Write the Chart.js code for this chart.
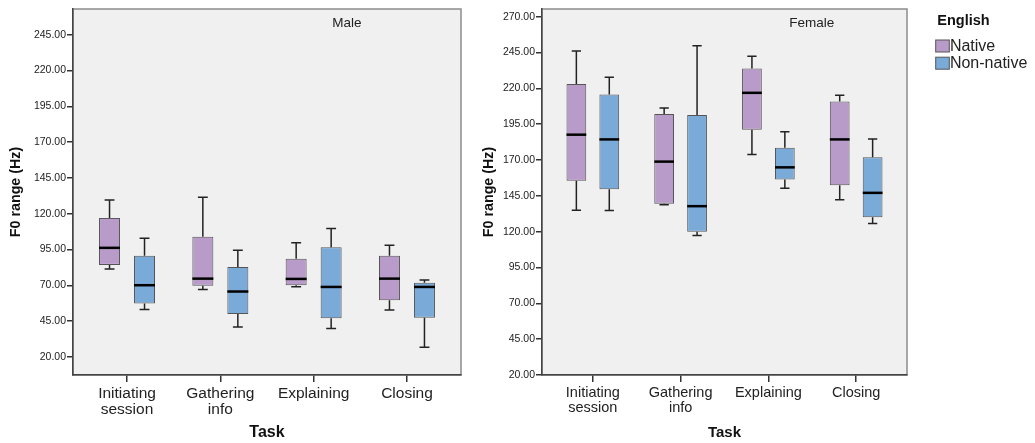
<!DOCTYPE html>
<html>
<head>
<meta charset="utf-8">
<script src="https://cdn.jsdelivr.net/npm/chart.js@4/dist/chart.umd.min.js"></script>
<style>
  body { margin: 0; background: #fff; }
  #wrap { position: relative; width: 1035px; height: 443px; }
  #male { position: absolute; left: 0; top: 0; }
  #female { position: absolute; left: 480px; top: 0; }
</style>
</head>
<body>
<div id="wrap">
  <canvas id="male" width="480" height="443"></canvas>
  <canvas id="female" width="555" height="443"></canvas>
</div>
<script>
const FONT = "'Liberation Sans', Arial, sans-serif";

// Tâches (axe X) et groupes
const tasks = [['Initiating', 'session'], ['Gathering', 'info'], 'Explaining', 'Closing'];
const groups = ['Native', 'Non-native'];
const groupColors = ['#b99bc9', '#7aaad8'];
const legendTitle = 'English';

// Graduations de l'axe Y
const maleTicks = [20, 45, 70, 95, 120, 145, 170, 195, 220, 245];
const femaleTicks = [20, 45, 70, 95, 120, 145, 170, 195, 220, 245, 270];

// Male - Native
const maleNativeMin = [81.5, 67.1, 69.1, 52.8];
const maleNativeQ1 = [84.3, 69.8, 70.1, 59.6];
const maleNativeMed = [96.2, 74.7, 74.5, 74.7];
const maleNativeQ3 = [117.1, 103.9, 88.5, 90.6];
const maleNativeMax = [129.7, 131.6, 99.7, 98.0];

// Male - Non-native
const maleNonMin = [53.1, 41.0, 39.8, 26.7];
const maleNonQ1 = [57.3, 50.0, 47.0, 47.3];
const maleNonMed = [70.1, 65.7, 68.9, 68.9];
const maleNonQ3 = [90.6, 82.9, 96.6, 71.9];
const maleNonMax = [102.9, 94.5, 109.7, 73.8];

// Female - Native
const femaleNativeMin = [135.0, 138.8, 173.8, 142.3];
const femaleNativeQ1 = [155.5, 139.5, 191.2, 152.4];
const femaleNativeMed = [187.7, 168.9, 216.9, 184.4];
const femaleNativeQ3 = [223.0, 202.1, 233.8, 210.9];
const femaleNativeMax = [246.1, 206.3, 242.4, 215.3];

// Female - Non-native
const femaleNonMin = [134.8, 117.4, 150.3, 125.8];
const femaleNonQ1 = [149.6, 120.0, 156.4, 130.1];
const femaleNonMed = [184.4, 137.8, 164.9, 147.1];
const femaleNonQ3 = [215.7, 201.4, 178.6, 171.9];
const femaleNonMax = [227.8, 249.8, 189.8, 184.7];

// Boîte = barre flottante [Q1, Q3] à la position de la tâche
function boxData(q1, q3) {
    return q1.map((v, i) => ({ x: i, y: [v, q3[i]] }));
}

function makeDataset(g, q1, q3, lo, mid, hi) {
    return {
        label: groups[g],
        data: boxData(q1, q3),
        backgroundColor: groupColors[g],
        borderColor: '#555',
        borderWidth: 1,
        borderSkipped: false,
        categoryPercentage: 0.75,
        barPercentage: 0.6,
        stats: { lo: lo, mid: mid, hi: hi }
    };
}

// Fond gris + cadre de la zone de tracé
const framePlugin = {
    id: 'frame',
    beforeDraw(chart) {
        const { ctx, chartArea: a } = chart;
        ctx.save();
        ctx.fillStyle = '#f0f0f0';
        ctx.fillRect(a.left, a.top, a.width, a.height);
        ctx.strokeStyle = '#8c8c8c';
        ctx.lineWidth = 1.5;
        ctx.strokeRect(a.left, a.top, a.width, a.height);
        ctx.restore();
    }
};

// Moustaches et médianes
const whiskerPlugin = {
    id: 'whiskers',
    afterDatasetsDraw(chart) {
        const ctx = chart.ctx;
        const y = chart.scales.y;
        ctx.save();
        chart.data.datasets.forEach((ds, di) => {
            const meta = chart.getDatasetMeta(di);
            meta.data.forEach((bar, i) => {
                const x = bar.x, w = bar.width, cap = w * 0.47;
                const q1 = ds.data[i].y[0], q3 = ds.data[i].y[1];
                ctx.strokeStyle = '#222';
                ctx.lineWidth = 1.5;
                ctx.beginPath();
                ctx.moveTo(x, y.getPixelForValue(q3));
                ctx.lineTo(x, y.getPixelForValue(ds.stats.hi[i]));
                ctx.moveTo(x - cap / 2, y.getPixelForValue(ds.stats.hi[i]));
                ctx.lineTo(x + cap / 2, y.getPixelForValue(ds.stats.hi[i]));
                ctx.moveTo(x, y.getPixelForValue(q1));
                ctx.lineTo(x, y.getPixelForValue(ds.stats.lo[i]));
                ctx.moveTo(x - cap / 2, y.getPixelForValue(ds.stats.lo[i]));
                ctx.lineTo(x + cap / 2, y.getPixelForValue(ds.stats.lo[i]));
                ctx.stroke();
                ctx.strokeStyle = '#000';
                ctx.lineWidth = 2.5;
                ctx.beginPath();
                ctx.moveTo(x - w / 2, y.getPixelForValue(ds.stats.mid[i]));
                ctx.lineTo(x + w / 2, y.getPixelForValue(ds.stats.mid[i]));
                ctx.stroke();
            });
        });
        ctx.restore();
    }
};

// Étiquette du panneau (Male / Female)
const panelLabelPlugin = {
    id: 'panelLabel',
    afterDraw(chart, args, opts) {
        const { ctx, chartArea: a } = chart;
        ctx.save();
        ctx.font = opts.size + 'px ' + FONT;
        ctx.fillStyle = '#222';
        ctx.textAlign = 'center';
        ctx.textBaseline = 'middle';
        ctx.fillText(opts.text, a.left + a.width * opts.xFrac, a.top + 14);
        ctx.restore();
    }
};

// Légende "English" à droite du panneau Female
const legendPlugin = {
    id: 'englishLegend',
    afterDraw(chart, args, opts) {
        if (!opts.display) return;
        const { ctx, chartArea: a } = chart;
        const x = a.right + 28.7;
        ctx.save();
        ctx.textAlign = 'left';
        ctx.textBaseline = 'middle';
        ctx.fillStyle = '#111';
        ctx.font = 'bold 14.5px ' + FONT;
        ctx.fillText(opts.title, x + 1.6, 21);
        chart.data.datasets.forEach((ds, i) => {
            const top = 40 + i * 17.2;
            ctx.fillStyle = ds.backgroundColor;
            ctx.fillRect(x, top, 13.6, 12);
            ctx.strokeStyle = ds.borderColor;
            ctx.lineWidth = 1;
            ctx.strokeRect(x, top, 13.6, 12);
            ctx.fillStyle = '#222';
            ctx.font = '16px ' + FONT;
            ctx.fillText(ds.label, x + 14.2, top + 6.8);
        });
        ctx.restore();
    }
};

function makeOptions(cfg) {
    return {
        responsive: false,
        animation: false,
        layout: { padding: { left: 0, right: cfg.padRight, top: 9, bottom: 0 } },
        plugins: {
            legend: { display: false },
            tooltip: { enabled: false },
            panelLabel: { text: cfg.label, xFrac: cfg.labelFrac, size: 13.5 },
            englishLegend: { display: cfg.legend, title: legendTitle }
        },
        scales: {
            x: {
                type: 'linear',
                min: -0.579,
                max: 3.579,
                offset: false,
                afterBuildTicks: s => { s.ticks = tasks.map((t, i) => ({ value: i })); },
                afterFit: s => { s.height = 68; },
                ticks: {
                    callback: v => tasks[v],
                    font: { family: FONT, size: cfg.xFont, lineHeight: 1 },
                    color: '#222',
                    padding: 4,
                    maxRotation: 0,
                    autoSkip: false
                },
                grid: { drawOnChartArea: false, drawTicks: true, offset: false, tickLength: 7, color: '#333', lineWidth: 1.5 },
                border: { display: true, color: '#444', width: 1.5 },
                title: {
                    display: true,
                    text: 'Task',
                    font: { family: FONT, size: cfg.titleFont, weight: 'bold' },
                    color: '#111',
                    padding: { top: 0, bottom: 1 }
                }
            },
            y: {
                min: cfg.yMin,
                max: cfg.yMax,
                afterBuildTicks: s => { s.ticks = cfg.yTicks.map(v => ({ value: v })); },
                afterFit: s => { s.width = cfg.yWidth; },
                ticks: {
                    callback: v => v.toFixed(2),
                    font: { family: FONT, size: 10.5 },
                    color: '#222',
                    padding: 1
                },
                grid: { drawOnChartArea: false, drawTicks: true, tickLength: 6, color: '#333', lineWidth: 1.5 },
                border: { display: true, color: '#444', width: 1.5 },
                title: {
                    display: true,
                    text: 'F0 range (Hz)',
                    font: { family: FONT, size: 14.3, weight: 'bold' },
                    color: '#111',
                    padding: { top: cfg.yTitlePad, bottom: 0 }
                }
            }
        }
    };
}

const plugins = [framePlugin, whiskerPlugin, panelLabelPlugin, legendPlugin];

new Chart(document.getElementById('male'), {
    type: 'bar',
    data: {
        datasets: [
            makeDataset(0, maleNativeQ1, maleNativeQ3, maleNativeMin, maleNativeMed, maleNativeMax),
            makeDataset(1, maleNonQ1, maleNonQ3, maleNonMin, maleNonMed, maleNonMax)
        ]
    },
    options: makeOptions({
        padRight: 19, yWidth: 73, yMin: 7.4, yMax: 263, yTicks: maleTicks, yTitlePad: 7.6,
        xFont: 15.5, titleFont: 16, label: 'Male', labelFrac: 0.706, legend: false
    }),
    plugins: plugins
});

new Chart(document.getElementById('female'), {
    type: 'bar',
    data: {
        datasets: [
            makeDataset(0, femaleNativeQ1, femaleNativeQ3, femaleNativeMin, femaleNativeMed, femaleNativeMax),
            makeDataset(1, femaleNonQ1, femaleNonQ3, femaleNonMin, femaleNonMed, femaleNonMax)
        ]
    },
    options: makeOptions({
        padRight: 128, yWidth: 62, yMin: 20, yMax: 275.4, yTicks: femaleTicks, yTitlePad: 0,
        xFont: 14.5, titleFont: 15, label: 'Female', labelFrac: 0.739, legend: true
    }),
    plugins: plugins
});
</script>
</body>
</html>
